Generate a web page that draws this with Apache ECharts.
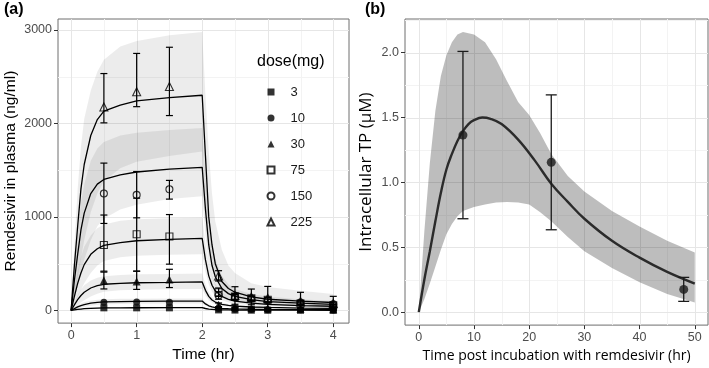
<!DOCTYPE html>
<html>
<head>
<meta charset="utf-8">
<script src="https://cdn.jsdelivr.net/npm/echarts@6.0.0/dist/echarts.min.js"></script>
<style>
  html, body { margin: 0; padding: 0; background: #fff; }
  #chart { width: 709px; height: 368px; }
</style>
</head>
<body>
<div id="chart"></div>
<script>
// ---------- panel (a): plasma remdesivir ----------
const doses = ['3', '10', '30', '75', '150', '225'];

// model prediction time grid (hr)
const predT = [0, 0.05, 0.1, 0.15, 0.2, 0.3, 0.4, 0.5, 0.75, 1, 1.5, 2, 2.05, 2.1, 2.15, 2.2, 2.3, 2.4, 2.5, 2.75, 3, 3.5, 4];

// predicted median (ng/ml)
const pred3   = [0, 6, 11, 15, 19, 23, 26, 27, 28, 29, 30, 30, 21, 15, 12, 9, 7, 6, 5, 4, 3.3, 2.7, 2.4];
const pred10  = [0, 20, 38, 52, 63, 78, 86, 91, 95, 97, 99, 100, 70, 50, 38, 31, 23, 19, 16, 13, 11, 9, 8];
const pred30  = [0, 60, 115, 160, 195, 240, 265, 280, 290, 296, 300, 305, 215, 150, 112, 90, 66, 54, 46, 37, 32, 26, 23];
const pred75  = [0, 150, 290, 400, 490, 600, 660, 695, 725, 745, 760, 770, 540, 370, 270, 210, 150, 118, 100, 78, 65, 52, 45];
const pred150 = [0, 320, 600, 860, 1040, 1250, 1350, 1400, 1450, 1480, 1510, 1530, 1080, 700, 480, 360, 235, 180, 150, 115, 95, 78, 65];
const pred225 = [0, 480, 900, 1300, 1560, 1870, 2040, 2130, 2195, 2240, 2275, 2300, 1650, 1000, 700, 500, 310, 235, 195, 145, 120, 100, 85];

// prediction interval bounds
const lo3   = [0, 2.5, 5.5, 8.5, 11, 15, 17, 19, 21, 22, 22.5, 23, 16, 11, 8.5, 7, 5, 4.3, 3.7, 3, 2.5, 2, 1.8];
const hi3   = [0, 9, 16, 22, 27, 32, 34, 36, 37, 38, 39, 39, 27, 19, 15, 12, 9, 7.5, 6.5, 5.2, 4.3, 3.5, 3.1];
const lo10  = [0, 8, 18, 28, 36, 50, 58, 64, 70, 72, 74, 75, 52, 37, 28, 23, 17, 14, 12, 10, 8, 7, 6];
const hi10  = [0, 30, 55, 75, 90, 105, 115, 120, 124, 126, 128, 129, 90, 64, 49, 40, 30, 24, 21, 17, 14, 12, 10];
const lo30  = [0, 25, 55, 85, 110, 150, 180, 200, 215, 222, 226, 230, 160, 110, 82, 65, 48, 38, 33, 26, 22, 18, 16];
const hi30  = [0, 90, 165, 225, 270, 320, 350, 365, 380, 386, 390, 394, 280, 195, 145, 115, 85, 70, 60, 48, 41, 34, 30];
const lo75  = [0, 60, 140, 220, 290, 400, 480, 530, 570, 585, 595, 600, 410, 280, 200, 155, 110, 85, 72, 55, 45, 37, 32];
const hi75  = [0, 230, 420, 570, 680, 800, 880, 920, 960, 975, 985, 990, 720, 500, 370, 285, 200, 155, 130, 100, 85, 70, 60];
const lo150 = [0, 100, 250, 400, 540, 750, 900, 980, 1080, 1130, 1190, 1220, 800, 500, 350, 260, 165, 125, 100, 75, 62, 50, 42];
const hi150 = [0, 480, 850, 1150, 1350, 1600, 1730, 1800, 1870, 1900, 1930, 1950, 1450, 1000, 720, 550, 370, 280, 230, 175, 150, 120, 100];
const lo225 = [0, 150, 350, 550, 750, 1050, 1250, 1380, 1520, 1590, 1650, 1700, 1100, 700, 480, 350, 210, 160, 130, 100, 85, 68, 55];
const hi225 = [0, 700, 1300, 1750, 2050, 2350, 2550, 2680, 2820, 2880, 2940, 2975, 2300, 1700, 1250, 950, 650, 480, 400, 290, 250, 210, 175];

// observed mean and error bar ends
const obsT = [0.5, 1, 1.5, 2.25, 2.5, 2.75, 3, 3.5, 4];
const obs3   = [28, 28, 28, 6, 4, 3, 2.5, 2, 1.5];
const obs10  = [88, 90, 88, 20, 14, 11, 9, 7, 5];
const obs30  = [320, 310, 330, 60, 40, 30, 25, 18, 14];
const obs75  = [700, 815, 790, 195, 150, 130, 115, 75, 55];
const obs150 = [1250, 1235, 1295, 160, 140, 125, 110, 85, 65];
const obs225 = [2175, 2337, 2394, 370, 160, 145, 130, 95, 75];
const errLo30  = [230, 225, 245, 40, 30, 22, 18, 12, 10];
const errHi30  = [410, 420, 440, 80, 50, 38, 32, 24, 18];
const errLo75  = [420, 420, 495, 150, 120, 105, 90, 60, 45];
const errHi75  = [1020, 1200, 1025, 240, 180, 155, 140, 90, 65];
const errLo150 = [930, 990, 1190, 120, 110, 100, 85, 65, 50];
const errHi150 = [1575, 1485, 1390, 200, 170, 150, 135, 105, 80];
const errLo225 = [2005, 2178, 2083, 315, 66, 61, 3, 0, 0];
const errHi225 = [2532, 2747, 2813, 425, 254, 229, 257, 194, 151];

const aXTicks = [0, 1, 2, 3, 4];
const aYTicks = [0, 1000, 2000, 3000];
const aXMinor = [0.5, 1.5, 2.5, 3.5];
const aYMinor = [500, 1500, 2500];

// ---------- panel (b): intracellular TP ----------
const bT    = [0, 1, 2, 3, 4, 5, 6, 7, 8, 9, 10, 11.5, 13, 15, 18, 21, 24, 27, 30, 35, 40, 45, 50];
const bPred = [0, 0.25, 0.47, 0.7, 0.92, 1.1, 1.22, 1.32, 1.395, 1.45, 1.48, 1.5, 1.49, 1.45, 1.33, 1.17, 0.99, 0.85, 0.72, 0.55, 0.42, 0.31, 0.22];
const bBandT = [0, 1, 2, 3, 4, 5, 6, 7, 8, 10, 12, 14, 16, 18, 20, 22, 24, 27, 30, 35, 40, 45, 50];
const bLo    = [0, 0.1, 0.22, 0.35, 0.48, 0.6, 0.68, 0.74, 0.78, 0.81, 0.83, 0.845, 0.85, 0.845, 0.83, 0.77, 0.7, 0.58, 0.47, 0.34, 0.23, 0.14, 0.075];
const bHi    = [0, 0.62, 1.15, 1.55, 1.82, 1.98, 2.08, 2.14, 2.16, 2.14, 2.08, 1.95, 1.78, 1.62, 1.52, 1.38, 1.22, 1.05, 0.93, 0.78, 0.66, 0.55, 0.46];
const bObsT   = [8, 24, 48];
const bObs    = [1.365, 1.155, 0.175];
const bErrLo  = [0.72, 0.635, 0.083];
const bErrHi  = [2.01, 1.675, 0.268];

const bXTicks = [0, 10, 20, 30, 40, 50];
const bYTicks = [0, 0.5, 1, 1.5, 2];
const bXMinor = [5, 15, 25, 35, 45];
const bYMinor = [0.25, 0.75, 1.25, 1.75, 2.25];

// ---------- build ----------
const chart = echarts.init(document.getElementById('chart'));

const preds = [pred3, pred10, pred30, pred75, pred150, pred225];
const los = [lo3, lo10, lo30, lo75, lo150, lo225];
const his = [hi3, hi10, hi30, hi75, hi150, hi225];
const obs = [obs3, obs10, obs30, obs75, obs150, obs225];
const errLos = [null, null, errLo30, errLo75, errLo150, errLo225];
const errHis = [null, null, errHi30, errHi75, errHi150, errHi225];
const shapes = ['rect', 'circle', 'triangle', 'rect', 'circle', 'triangle'];
const sizes = [7, 7, 8, 7, 7, 8];

const tickFont = 'Liberation Sans, Arial, sans-serif';

function gridLines(color) {
  return function (params, api) {
    const cs = params.coordSys;
    const v = api.value(0);
    let shape;
    if (api.value(2) === 0) {
      const x = Math.round(api.coord([v, api.value(1)])[0]) + 0.5;
      shape = { x1: x, y1: cs.y, x2: x, y2: cs.y + cs.height };
    } else {
      const y = Math.round(api.coord([api.value(1), v])[1]) + 0.5;
      shape = { x1: cs.x, y1: y, x2: cs.x + cs.width, y2: y };
    }
    return { type: 'line', shape: shape, style: { stroke: color, lineWidth: 1 } };
  };
}

function gridSeries(idx, xs, ys, anchorX, anchorY, color) {
  const data = xs.map(v => [v, anchorY, 0]).concat(ys.map(v => [v, anchorX, 1]));
  return {
    type: 'custom', xAxisIndex: idx, yAxisIndex: idx, z: 1, silent: true,
    renderItem: gridLines(color), data: data, encode: { x: -1, y: -1 }
  };
}

function bandSeries(idx, ts, lo, hi, fill) {
  return {
    type: 'custom', xAxisIndex: idx, yAxisIndex: idx, z: 2, silent: true, clip: true,
    data: [[ts[0], lo[0]]],
    renderItem: function (params, api) {
      const pts = [];
      ts.forEach((t, i) => pts.push(api.coord([t, hi[i]])));
      for (let i = ts.length - 1; i >= 0; i--) pts.push(api.coord([ts[i], lo[i]]));
      return { type: 'polygon', shape: { points: pts }, style: { fill: fill } };
    }
  };
}

function errorSeries(idx, data, cap, width, color) {
  return {
    type: 'custom', xAxisIndex: idx, yAxisIndex: idx, z: 4, silent: true,
    data: data, encode: { x: 0, y: [1, 2] },
    renderItem: function (params, api) {
      const lo = api.coord([api.value(0), api.value(1)]);
      const hi = api.coord([api.value(0), api.value(2)]);
      const st = { stroke: color, lineWidth: width };
      return {
        type: 'group', children: [
          { type: 'line', shape: { x1: lo[0], y1: lo[1], x2: hi[0], y2: hi[1] }, style: st },
          { type: 'line', shape: { x1: lo[0] - cap, y1: lo[1], x2: lo[0] + cap, y2: lo[1] }, style: st },
          { type: 'line', shape: { x1: hi[0] - cap, y1: hi[1], x2: hi[0] + cap, y2: hi[1] }, style: st }
        ]
      };
    }
  };
}

const series = [];
// grid lines
series.push(gridSeries(0, aXMinor, aYMinor, 0, 0, '#f3f3f3'));
series.push(gridSeries(0, aXTicks, aYTicks, 0, 0, '#e6e6e6'));
series.push(gridSeries(1, bXMinor, bYMinor, 0, 0, '#f3f3f3'));
series.push(gridSeries(1, bXTicks, bYTicks, 0, 0, '#e6e6e6'));

// panel a
doses.forEach((d, k) => {
  series.push(bandSeries(0, predT, los[k], his[k], 'rgba(0,0,0,0.075)'));
});
doses.forEach((d, k) => {
  series.push({
    type: 'line', xAxisIndex: 0, yAxisIndex: 0, z: 3, silent: true,
    showSymbol: false, symbol: 'none',
    lineStyle: { color: '#000', width: 1.3 },
    data: predT.map((t, i) => [t, preds[k][i]])
  });
});
const errA = [];
doses.forEach((d, k) => {
  if (!errLos[k]) return;
  obsT.forEach((t, i) => errA.push([t, errLos[k][i], errHis[k][i]]));
});
series.push(errorSeries(0, errA, 3.5, 1.2, '#000'));
doses.forEach((d, k) => {
  const open = k >= 3;
  series.push({
    name: d, type: 'scatter', xAxisIndex: 0, yAxisIndex: 0, z: 5,
    symbol: shapes[k], symbolSize: sizes[k],
    itemStyle: open
      ? { color: 'rgba(255,255,255,0)', borderColor: '#000', borderWidth: 1.1 }
      : { color: '#000' },
    data: obsT.map((t, i) => [t, obs[k][i]])
  });
});

// panel b
series.push(bandSeries(1, bBandT, bLo, bHi, 'rgba(0,0,0,0.26)'));
series.push({
  type: 'line', xAxisIndex: 1, yAxisIndex: 1, z: 3, silent: true,
  showSymbol: false, symbol: 'none', smooth: 0.4,
  lineStyle: { color: '#2b2b2b', width: 2.4 },
  data: bT.map((t, i) => [t, bPred[i]])
});
series.push(errorSeries(1, bObsT.map((t, i) => [t, bErrLo[i], bErrHi[i]]), 5.5, 1.3, '#1a1a1a'));
series.push({
  type: 'scatter', xAxisIndex: 1, yAxisIndex: 1, z: 5,
  symbol: 'circle', symbolSize: 9,
  itemStyle: { color: '#1a1a1a' },
  data: bObsT.map((t, i) => [t, bObs[i]])
});

function valueAxis(idx, min, max, ticks, fmt, extra) {
  return Object.assign({
    type: 'value', gridIndex: idx, min: min, max: max,
    axisLine: { show: false, onZero: false },
    splitLine: { show: false },
    axisTick: { show: true, customValues: ticks, length: 4, lineStyle: { color: '#333', width: 1 } },
    axisLabel: {
      customValues: ticks, formatter: fmt, color: '#4d4d4d',
      fontSize: 12.5, fontFamily: tickFont, margin: 6
    },
    nameLocation: 'middle',
    nameTextStyle: { color: '#000', fontSize: 15.5, fontWeight: 'normal', fontFamily: tickFont }
  }, extra);
}

const option = {
  animation: false,
  backgroundColor: '#fff',
  title: [
    { text: '(a)', left: -1, top: -3, textStyle: { fontSize: 16, fontWeight: 'bold', color: '#000', fontFamily: tickFont } },
    { text: '(b)', left: 360, top: -3, textStyle: { fontSize: 16, fontWeight: 'bold', color: '#000', fontFamily: tickFont } },
    { text: 'dose(mg)', left: 252, top: 49, textStyle: { fontSize: 16, fontWeight: 'normal', color: '#000', fontFamily: tickFont } }
  ],
  legend: {
    orient: 'vertical', left: 261.5, top: 80,
    itemWidth: 7, itemHeight: 7, itemGap: 12,
    selectedMode: false,
    data: doses,
    textStyle: { fontSize: 13, color: '#1a1a1a', fontFamily: tickFont, lineHeight: 14, padding: [0, 0, 0, 11] }
  },
  grid: [
    { left: 58, top: 19, width: 291, height: 307, show: true, borderColor: '#6e6e6e', borderWidth: 1, backgroundColor: '#fff' },
    { left: 405, top: 19, width: 303, height: 307, show: true, borderColor: '#6e6e6e', borderWidth: 1, backgroundColor: '#fff' }
  ],
  xAxis: [
    valueAxis(0, -0.2, 4.24, aXTicks, v => String(v), { name: 'Time (hr)', nameGap: 23 }),
    valueAxis(1, -2.5, 52.4, bXTicks, v => String(v), {
      name: 'Time post incubation with remdesivir (hr)', nameGap: 23,
      nameTextStyle: { color: '#000', fontSize: 14, fontWeight: 'normal', fontFamily: 'Open Sans, sans-serif' }
    })
  ],
  yAxis: [
    valueAxis(0, -135, 3115, aYTicks, v => String(v), { name: 'Remdesivir in plasma (ng/ml)', nameGap: 39 }),
    valueAxis(1, -0.1, 2.26, bYTicks, v => v.toFixed(1), {
      name: 'Intracellular TP (μM)', nameGap: 30,
      nameTextStyle: { color: '#000', fontSize: 17, fontWeight: 'normal', fontFamily: 'Open Sans, sans-serif' }
    })
  ],
  series: series
};

chart.setOption(option);
window.addEventListener('resize', function () { chart.resize(); });
</script>
</body>
</html>
